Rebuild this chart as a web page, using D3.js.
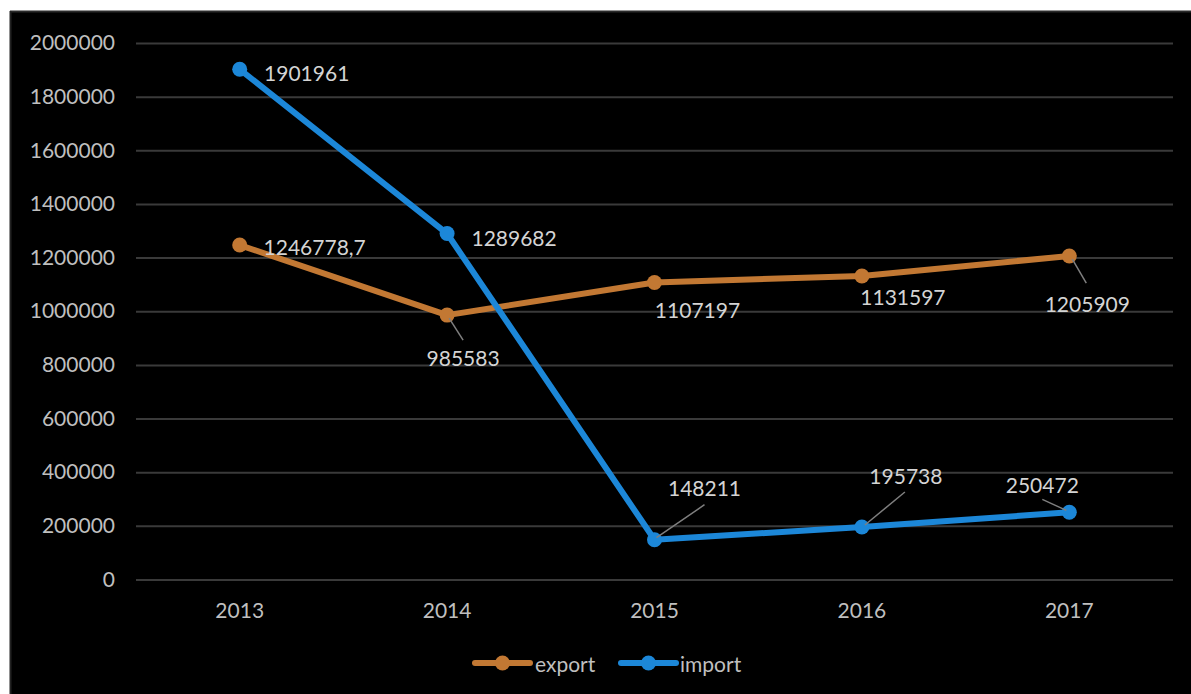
<!DOCTYPE html>
<html>
<head>
<meta charset="utf-8">
<script src="https://cdn.jsdelivr.net/npm/d3@7/dist/d3.min.js"></script>
<style>
  html, body { margin: 0; padding: 0; background: #ffffff; }
  svg { display: block; }
  text { font-family: Lato, "Open Sans", sans-serif; }
</style>
</head>
<body>
<svg id="chart" width="1191" height="694"></svg>
<script>
// Trade volumes by year
const years = ["2013", "2014", "2015", "2016", "2017"];
const exportValues = [1246778.7, 985583, 1107197, 1131597, 1205909];
const importValues = [1901961, 1289682, 148211, 195738, 250472];
const exportLabels = ["1246778,7", "985583", "1107197", "1131597", "1205909"];
const importLabels = ["1901961", "1289682", "148211", "195738", "250472"];
const yTicks = [0, 200000, 400000, 600000, 800000, 1000000, 1200000, 1400000, 1600000, 1800000, 2000000];

const W = 1191, H = 694;
const svg = d3.select("#chart");

// dark chart panel
svg.append("rect").attr("x", 10).attr("y", 11).attr("width", W - 10).attr("height", H - 11)
  .attr("fill", "#000000");
svg.append("line").attr("x1", 10).attr("x2", W).attr("y1", 11.5).attr("y2", 11.5)
  .attr("stroke", "#2b2b2b").attr("stroke-width", 2);
svg.append("line").attr("x1", 10.5).attr("x2", 10.5).attr("y1", 11).attr("y2", H)
  .attr("stroke", "#222222").attr("stroke-width", 2);

const plot = { left: 136, right: 1173, top: 43, bottom: 579.5 };

const x = d3.scaleBand().domain(years).range([plot.left, plot.right]);
const cx = d => x(d) + x.bandwidth() / 2;
const y = d3.scaleLinear().domain([0, 2000000]).range([plot.bottom, plot.top]);

// horizontal gridlines + y labels
const yAxis = d3.axisLeft(y).tickValues(yTicks).tickSize(-(plot.right - plot.left)).tickPadding(21)
  .tickFormat(d3.format("d"));
const gy = svg.append("g").attr("transform", `translate(${plot.left},0)`).call(yAxis);
gy.select(".domain").remove();
gy.selectAll(".tick line").attr("stroke", "#3a3a3a").attr("stroke-width", 2);
gy.selectAll(".tick text").attr("fill", "#bfbfbf").attr("font-size", 21)
  .attr("font-family", "Lato, 'Open Sans', sans-serif");

// x labels
const xAxis = d3.axisBottom(x).tickSize(0).tickPadding(24);
const gx = svg.append("g").attr("transform", `translate(0,${plot.bottom})`).call(xAxis);
gx.select(".domain").remove();
gx.selectAll(".tick text").attr("fill", "#bfbfbf").attr("font-size", 21)
  .attr("font-family", "Lato, 'Open Sans', sans-serif");

const series = [
  { name: "export", values: exportValues, labels: exportLabels, color: "#c27833" },
  { name: "import", values: importValues, labels: importLabels, color: "#1c87d8" }
];

const line = d3.line().x(d => cx(d.year)).y(d => y(d.v));

series.forEach(s => {
  const pts = years.map((yr, i) => ({ year: yr, v: s.values[i] }));
  svg.append("path").datum(pts).attr("d", line).attr("fill", "none")
    .attr("stroke", s.color).attr("stroke-width", 6).attr("stroke-linejoin", "round");
  svg.selectAll(null).data(pts).enter().append("circle")
    .attr("cx", d => cx(d.year)).attr("cy", d => y(d.v)).attr("r", 7.5)
    .attr("fill", s.color);
});

// data label placement: text centre offset from its point, optional leader line [x1,y1,x2,y2]
const labelPlacement = {
  export: [
    { dx: 75, dy: 1, lead: null },
    { dx: 16, dy: 42, lead: [2, 3, 16, 25] },
    { dx: 43, dy: 27, lead: null },
    { dx: 41, dy: 21, lead: null },
    { dx: 18, dy: 47, lead: [3, 3, 17, 27] }
  ],
  import: [
    { dx: 67, dy: 3, lead: null },
    { dx: 67, dy: 4, lead: null },
    { dx: 50, dy: -52, lead: [2, -2, 50, -35] },
    { dx: 44, dy: -51, lead: [3, -2, 43, -35] },
    { dx: -27, dy: -28, lead: [-27, -13, -3, -2] }
  ]
};

series.forEach(s => {
  years.forEach((yr, i) => {
    const px = cx(yr), py = y(s.values[i]);
    const p = labelPlacement[s.name][i];
    if (p.lead) {
      svg.append("line")
        .attr("x1", px + p.lead[0]).attr("y1", py + p.lead[1])
        .attr("x2", px + p.lead[2]).attr("y2", py + p.lead[3])
        .attr("stroke", "#7f7f7f").attr("stroke-width", 1.5);
    }
    svg.append("text").attr("x", px + p.dx).attr("y", py + p.dy).attr("text-anchor", "middle")
      .attr("dominant-baseline", "central").attr("fill", "#d4d4d4").attr("font-size", 21)
      .text(s.labels[i]);
  });
});

// legend
const legend = svg.append("g").attr("transform", "translate(0,663)");
const legendItems = [
  { s: series[0], x0: 475, tx: 535 },
  { s: series[1], x0: 621, tx: 680 }
];
legendItems.forEach(it => {
  legend.append("line").attr("x1", it.x0).attr("x2", it.x0 + 55).attr("y1", 0).attr("y2", 0)
    .attr("stroke", it.s.color).attr("stroke-width", 6).attr("stroke-linecap", "round");
  legend.append("circle").attr("cx", it.x0 + 27.5).attr("cy", 0).attr("r", 7.5).attr("fill", it.s.color);
  legend.append("text").attr("x", it.tx).attr("y", 0).attr("dominant-baseline", "central")
    .attr("fill", "#bfbfbf").attr("font-size", 21).text(it.s.name);
});
</script>
</body>
</html>
